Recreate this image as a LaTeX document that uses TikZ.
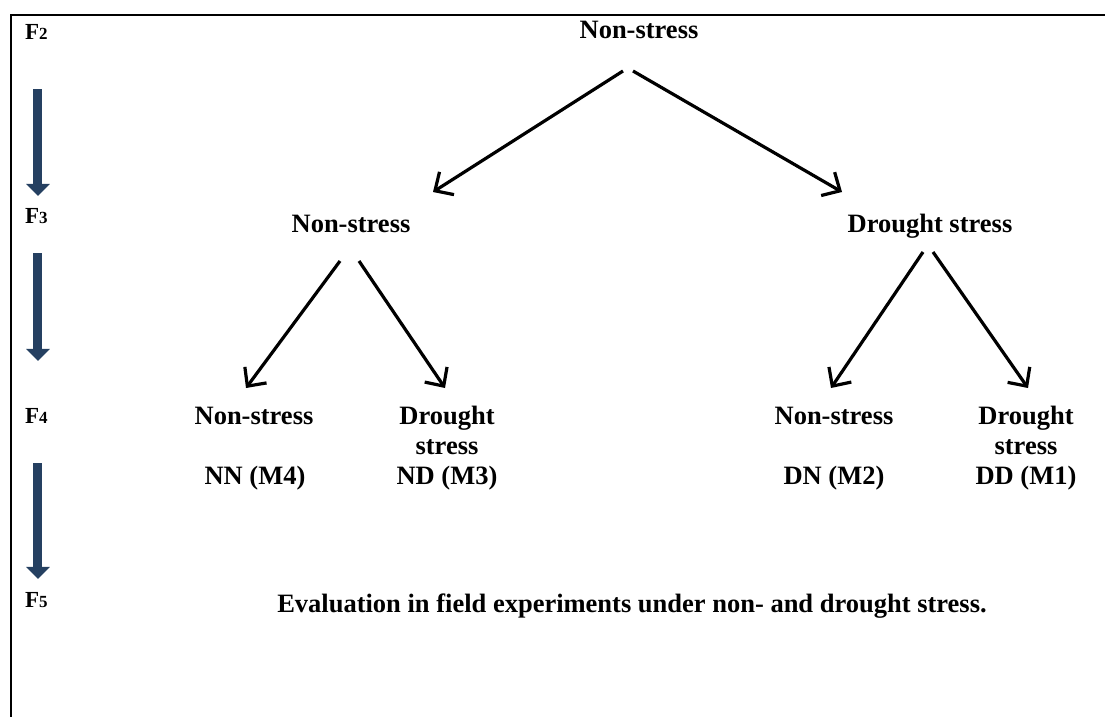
\documentclass[tikz,border=0pt]{standalone}
\usepackage{fontspec}
\setmainfont{Liberation Serif}
\usetikzlibrary{
  arrows.meta,
  calc
}
\definecolor{gennavy}{RGB}{37,64,97}
\newcommand{\gnum}[1]{{\fontsize{17}{17}\selectfont #1}}

\begin{document}
\begin{tikzpicture}[x=1pt, y=-1pt,
  lbl/.style={font=\fontsize{26.5}{30}\selectfont\bfseries, inner sep=0pt, anchor=base, align=center},
  gen/.style={font=\fontsize{23}{24}\selectfont\bfseries, inner sep=0pt, anchor=base west},
  branch/.style={line width=3.2pt, -{Straight Barb[length=14pt, width=27pt]}},
  down/.style={gennavy, line width=9pt, -{Triangle[length=12pt, width=23pt]}}]
  \useasboundingbox (0,0) rectangle (1105,717);

  % Frame
  \draw[line width=2pt] (1105,15) -- (11,15) -- (11,717);

  % Generations
  \node[gen] (f2) at (25,40) {F\gnum{2}};
  \node[gen] (f3) at (25,223) {F\gnum{3}};
  \node[gen] (f4) at (25,423) {F\gnum{4}};
  \node[gen] (f5) at (25,607) {F\gnum{5}};

  \draw[down, shorten <=49pt, shorten >=11.8pt] ([xshift=1.5pt]f2.south) -- ([xshift=1.5pt]f3.north);
  \draw[down, shorten <=30pt, shorten >=46.8pt] ([xshift=1.5pt]f3.south) -- ([xshift=1.5pt]f4.north);
  \draw[down, shorten <=40pt, shorten >=12.8pt] ([xshift=1.5pt]f4.south) -- ([xshift=1.5pt]f5.north);

  % Selection levels
  \node[lbl] (top) at (639,39) {Non-stress};
  \node[lbl] (ns) at (351,232) {Non-stress};
  \node[lbl] (ds) at (930,232) {Drought stress};
  \node[lbl] (nsns) at (254,424) {Non-stress};
  \node[lbl] (nsds) at (447,454) {Drought\\stress};
  \node[lbl] (dsns) at (834,424) {Non-stress};
  \node[lbl] (dsds) at (1026,454) {Drought\\stress};

  % Codes
  \node[lbl] (nn) at (255,484) {NN (M4)};
  \node[lbl] (nd) at (447,484) {ND (M3)};
  \node[lbl] (dn) at (834,484) {DN (M2)};
  \node[lbl] (dd) at (1026,484) {DD (M1)};

  \node[lbl] (eval) at (632,612) {Evaluation in field experiments under non- and drought stress.};

  % Branch ends
  \coordinate (top-l) at (623,71);
  \coordinate (top-r) at (633,71);
  \coordinate (ns-in) at (433,192);
  \coordinate (ds-in) at (842,192);
  \coordinate (ns-l) at (340,261);
  \coordinate (ns-r) at (359,261);
  \coordinate (nsns-in) at (246,388);
  \coordinate (nsds-in) at (445,388);
  \coordinate (ds-l) at (923,252);
  \coordinate (ds-r) at (933,252);
  \coordinate (dsns-in) at (831,388);
  \coordinate (dsds-in) at (1028,388);

  \draw[branch] (top-l) -- (ns-in);
  \draw[branch] (top-r) -- (ds-in);
  \draw[branch] (ns-l) -- (nsns-in);
  \draw[branch] (ns-r) -- (nsds-in);
  \draw[branch] (ds-l) -- (dsns-in);
  \draw[branch] (ds-r) -- (dsds-in);
\end{tikzpicture}
\end{document}
